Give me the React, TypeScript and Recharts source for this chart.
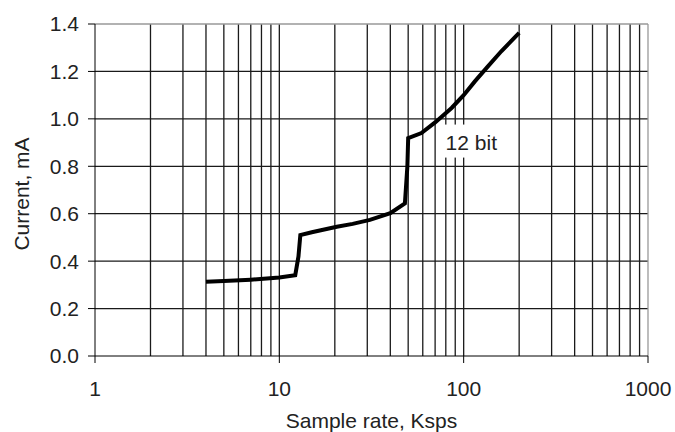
import { LineChart, Line, XAxis, YAxis, ReferenceLine, ReferenceDot } from 'recharts'

// sample rate (Ksps) vs supply current (mA)
const RATE = [4, 5, 7, 10, 12.2, 12.7, 13, 15, 20.5, 25, 31, 40, 48, 49.5, 50, 59, 70, 86, 100, 115, 135, 160, 200]
const CURRENT = [
  0.313, 0.316, 0.322, 0.331, 0.341, 0.42, 0.51, 0.522, 0.545, 0.557, 0.574, 0.602, 0.644, 0.8, 0.919,
  0.94, 0.985, 1.046, 1.1, 1.158, 1.22, 1.285, 1.363,
]

const X_TICKS = [1, 10, 100, 1000]
const Y_TICKS = [0, 0.2, 0.4, 0.6, 0.8, 1.0, 1.2, 1.4]
const X_GRID = [2, 3, 4, 5, 6, 7, 8, 9, 10, 20, 30, 40, 50, 60, 70, 80, 90, 100, 200, 300, 400, 500, 600, 700, 800, 900]
const Y_GRID = [0.2, 0.4, 0.6, 0.8, 1.0, 1.2]

const SERIES_LABEL = '12 bit'
const LABEL_AT = { x: 110, y: 0.9 }

const data = RATE.map((x, i) => ({ x, y: CURRENT[i] }))

const FONT = '"Liberation Sans", Arial, sans-serif'
const TEXT = '#222'
const GRID = '#1a1a1a'

function SeriesLabel({ viewBox }: any) {
  const cx = viewBox.cx ?? viewBox.x
  const cy = viewBox.cy ?? viewBox.y
  return (
    <g>
      <rect x={cx - 29} y={cy - 18} width={58} height={33} fill="#fff" />
      <text x={cx} y={cy} textAnchor="middle" dominantBaseline="central" fontSize={21} fontFamily={FONT} fill={TEXT}>
        {SERIES_LABEL}
      </text>
    </g>
  )
}

function YLabel({ viewBox }: any) {
  const x = viewBox.x + 21
  const y = viewBox.y + viewBox.height / 2 + 4
  return (
    <text
      x={x}
      y={y}
      transform={`rotate(-90, ${x}, ${y})`}
      textAnchor="middle"
      dominantBaseline="central"
      fontSize={21}
      fontFamily={FONT}
      fill={TEXT}
    >
      Current, mA
    </text>
  )
}

export default function App() {
  return (
    <div style={{ position: 'absolute', left: 0, top: 0, background: '#fff' }}>
      <LineChart width={675} height={432} data={data} margin={{ top: 24, right: 27, bottom: 0, left: 0 }}>
        {X_GRID.map((v) => (
          <ReferenceLine key={'x' + v} x={v} stroke={GRID} strokeWidth={1.3} />
        ))}
        {Y_GRID.map((v) => (
          <ReferenceLine key={'y' + v} y={v} stroke={GRID} strokeWidth={1.3} />
        ))}
        <ReferenceLine y={1.4} stroke="#999" strokeWidth={1.3} />
        <ReferenceLine x={1000} stroke="#999" strokeWidth={1.3} />
        <XAxis
          dataKey="x"
          type="number"
          scale="log"
          domain={[1, 1000]}
          ticks={X_TICKS}
          allowDataOverflow
          height={76}
          tickSize={7}
          tickMargin={18}
          stroke="#000"
          tick={{ fontSize: 21, fontFamily: FONT, fill: TEXT }}
          label={{
            value: 'Sample rate, Ksps',
            position: 'insideBottom',
            offset: 4,
            fontSize: 21,
            fontFamily: FONT,
            fill: TEXT,
          }}
        />
        <YAxis
          type="number"
          domain={[0, 1.4]}
          ticks={Y_TICKS}
          width={95}
          tickSize={7}
          tickMargin={9}
          stroke="#000"
          tickFormatter={(v: number) => v.toFixed(1)}
          tick={{ fontSize: 21, fontFamily: FONT, fill: TEXT }}
          label={<YLabel />}
        />
        <ReferenceDot x={LABEL_AT.x} y={LABEL_AT.y} r={0} stroke="none" fill="none" label={<SeriesLabel />} />
        <Line type="linear" dataKey="y" stroke="#000" strokeWidth={4} dot={false} isAnimationActive={false} />
      </LineChart>
    </div>
  )
}
